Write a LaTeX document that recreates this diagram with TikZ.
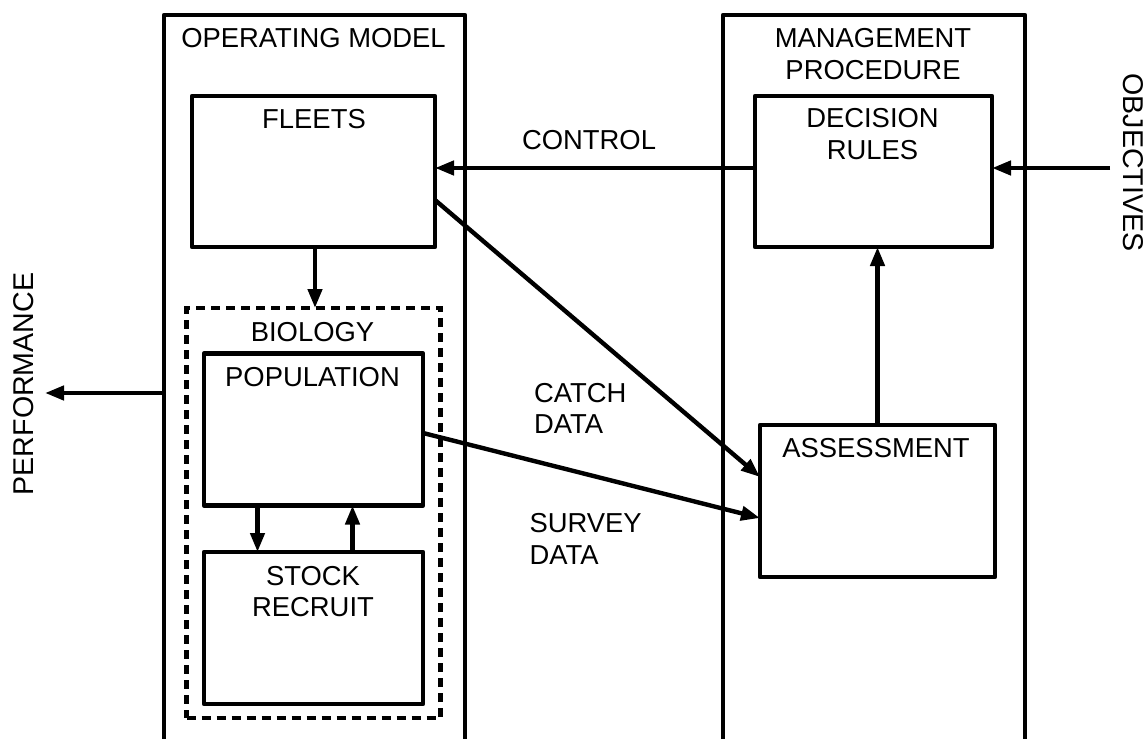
\documentclass[tikz,border=0pt]{standalone}
\usepackage{fontspec}
\setmainfont{Liberation Sans}
\usetikzlibrary{arrows.meta}
\begin{document}
\begin{tikzpicture}[x=1pt,y=-1pt,
  every node/.style={inner sep=0pt, outer sep=0pt},
  frame/.style={draw, line width=4.6pt, rectangle, line join=round},
  lbl/.style={font=\fontsize{27.4}{32}\selectfont, anchor=base},
  rlbl/.style={font=\fontsize{28.6}{32}\selectfont, anchor=center},
  arr/.style={line width=4.4pt, -{Triangle[length=19pt,width=14pt]}},
  dashbox/.style={draw, line width=4.4pt, dash pattern=on 9pt off 6pt, rectangle}]
\useasboundingbox (0,0) rectangle (1147,738);
\clip (0,0) rectangle (1147,738);
% outer frames (open at the bottom of the picture)
\node[frame, minimum width=301pt, minimum height=760pt] (om) at (314.5,395) {};
\node[frame, minimum width=302pt, minimum height=760pt] (mp) at (874,395) {};
% inner boxes
\node[frame, minimum width=243pt, minimum height=151pt] (fleets) at (313.5,171.5) {};
\node[frame, minimum width=237pt, minimum height=151pt] (dec) at (873.5,171.5) {};
\node[dashbox, minimum width=254pt, minimum height=410pt] (bio) at (313.5,513) {};
\node[frame, minimum width=219pt, minimum height=152pt] (pop) at (313.5,429.5) {};
\node[frame, minimum width=219pt, minimum height=152pt] (stock) at (313.5,628) {};
\node[frame, minimum width=235pt, minimum height=152pt] (assess) at (877.5,501) {};
% labels
\node[lbl] (omt) at (313.5,47.5) {OPERATING MODEL};
\node[lbl] (mpt1) at (873,48) {MANAGEMENT};
\node[lbl] (mpt2) at (873,80) {PROCEDURE};
\node[lbl] (flt) at (314,128.5) {FLEETS};
\node[lbl] (dect1) at (872.5,128) {DECISION};
\node[lbl] (dect2) at (872.5,160) {RULES};
\node[lbl] (ctl) at (589,149.5) {CONTROL};
\node[lbl] (biot) at (312.5,341.5) {BIOLOGY};
\node[lbl] (popt) at (312.5,386.5) {POPULATION};
\node[lbl] (stt1) at (313,585) {STOCK};
\node[lbl] (stt2) at (313,616.5) {RECRUIT};
\node[lbl] (ast) at (876,457) {ASSESSMENT};
\node[lbl, anchor=base west] (ca1) at (534,402) {CATCH};
\node[lbl, anchor=base west] (ca2) at (534,433.5) {DATA};
\node[lbl, anchor=base west] (su1) at (529.5,532) {SURVEY};
\node[lbl, anchor=base west] (su2) at (529.5,564) {DATA};
\node[rlbl, rotate=90] (perft) at (24,384) {PERFORMANCE};
\node[rlbl, rotate=-90] (objt) at (1133,162.5) {OBJECTIVES};
% free ends
\coordinate (perf) at (45,393);
\coordinate (obj) at (1110,168);
% connectors
\draw[arr] (om.west |- perf) -- (perf);
\draw[arr] (obj) -- (obj -| dec.east);
\draw[arr] ([yshift=3.5pt]dec.west) -- ([yshift=3.5pt]dec.west -| fleets.east);
\draw[arr] (assess.north) -- (assess.north |- dec.south);
\draw[arr] ([xshift=1.5pt]fleets.south) -- ([xshift=1.5pt]fleets.south |- bio.north);
\draw[arr] ([xshift=-56pt]pop.south) -- ([xshift=-56pt]stock.north);
\draw[arr] ([xshift=39pt]stock.north) -- ([xshift=39pt]pop.south);
\draw[arr] ([yshift=-28.5pt]fleets.east) -- ([yshift=24pt]assess.west);
\draw[arr] ([yshift=-3.5pt]pop.east) -- ([yshift=-17pt]assess.west);
\end{tikzpicture}
\end{document}
